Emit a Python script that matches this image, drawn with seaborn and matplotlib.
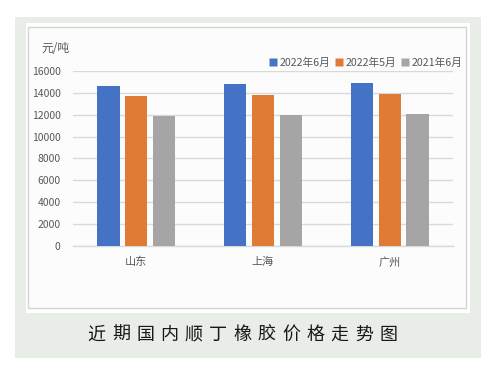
import pandas as pd
import seaborn as sns
import matplotlib.pyplot as plt
from matplotlib.patches import Rectangle
from matplotlib.lines import Line2D

# === 1. Data ===
cities = ["山东", "上海", "广州"]
series = ["2022年6月", "2022年5月", "2021年6月"]
price_2022_06 = [14600, 14800, 14900]
price_2022_05 = [13700, 13800, 13850]
price_2021_06 = [11900, 12000, 12050]
yticks = [0, 2000, 4000, 6000, 8000, 10000, 12000, 14000, 16000]
title = "近期国内顺丁橡胶价格走势图"
unit = "元/吨"

colors = ["#4472C4", "#E07B35", "#A5A5A5"]

df = pd.DataFrame({
    "city": cities * 3,
    "series": [s for s in series for _ in cities],
    "price": price_2022_06 + price_2022_05 + price_2021_06,
})

# === 2. Figure and background panels ===
W, H = 485, 373
sns.set_style("white")
plt.rcParams["font.family"] = ["Noto Sans CJK SC", "DejaVu Sans"]
fig = plt.figure(figsize=(W / 100, H / 100), dpi=100, facecolor="white")


def box(x0, y0, x1, y1, **kw):
    # pixel coords (top-left origin) -> figure fraction
    fig.patches.append(Rectangle((x0 / W, 1 - y1 / H), (x1 - x0) / W, (y1 - y0) / H,
                                 transform=fig.transFigure, zorder=-1, **kw))


box(15, 17, 481, 358, facecolor="#E8EDE7", edgecolor="none")
box(26, 23, 470, 313, facecolor="white", edgecolor="none")
box(28.5, 27, 466.5, 307.5, facecolor="#FCFCFC", edgecolor="#D4D4D4", linewidth=1)

# === 3. Bars ===
ax = fig.add_axes([73 / W, 1 - 245.7 / H, 380 / W, 174.7 / H])
ax.set_facecolor("none")
sns.barplot(data=df, x="city", y="price", hue="series", palette=colors, saturation=1,
            width=0.66, gap=0.2, linewidth=0, ax=ax, legend=False, zorder=3)

ax.set_ylim(0, 16000)
ax.set_yticks(yticks)
ax.set_yticklabels([str(v) for v in yticks], fontsize=7.5, color="#595959")
ax.tick_params(axis="y", length=0, pad=9)
ax.tick_params(axis="x", length=0, pad=8, labelsize=8, labelcolor="#595959")
ax.yaxis.grid(True, color="#D9D9D9", linewidth=1)
ax.set_axisbelow(True)
for s in ["top", "right", "left"]:
    ax.spines[s].set_visible(False)
ax.spines["bottom"].set_color("#D9D9D9")
ax.spines["bottom"].set_linewidth(1)
ax.set_xlabel("")
ax.set_ylabel("")

# === 4. Unit label and legend ===
fig.text(41 / W, 1 - 48 / H, unit, fontsize=8.5, color="#595959", va="center", ha="left")

handles = [Line2D([], [], marker="s", linestyle="none", markersize=5.5,
                  markerfacecolor=c, markeredgecolor="none") for c in colors]
fig.legend(handles, series, loc="center right", bbox_to_anchor=(462 / W, 1 - 63 / H),
           ncol=3, frameon=False, fontsize=7.7, handlelength=0.6, handletextpad=0.3,
           columnspacing=0.5, labelcolor="#595959", borderaxespad=0, borderpad=0)

# === 5. Title, spaced out like the original ===
for i, ch in enumerate(title):
    fig.text((96.5 + i * 24.3) / W, 1 - 335 / H, ch, fontsize=13,
             color="#1A1718", ha="center", va="center")

plt.savefig("out.png", dpi=100, facecolor="white")
